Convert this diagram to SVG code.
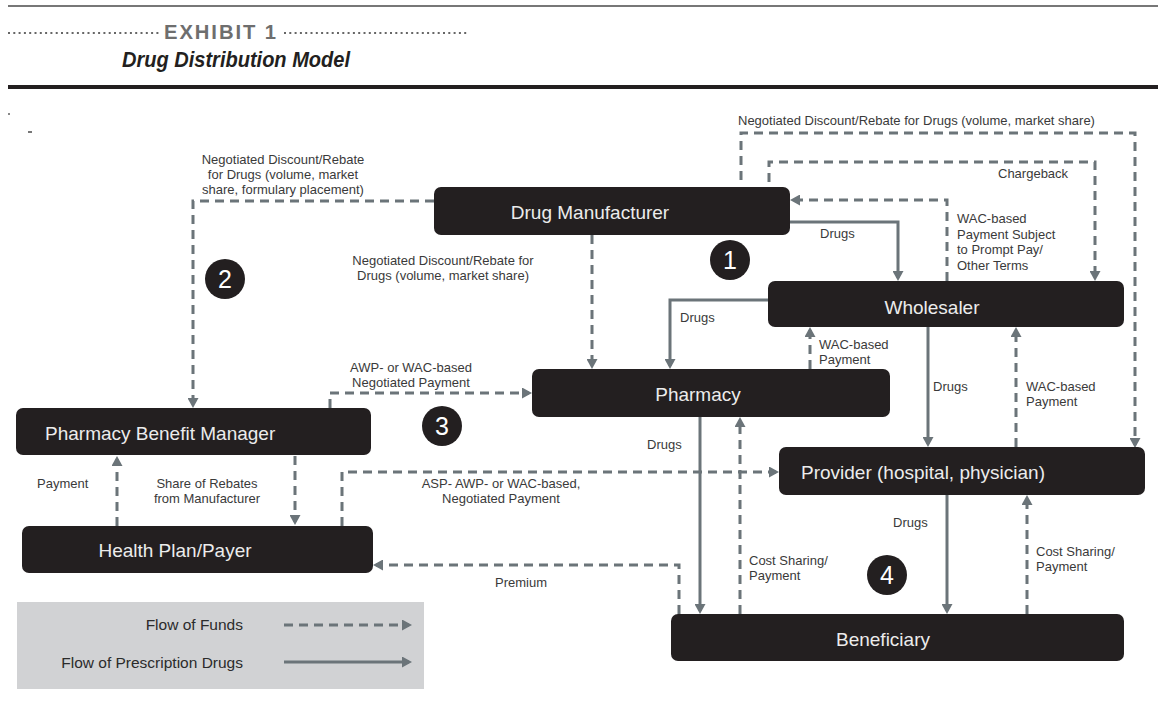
<svg xmlns="http://www.w3.org/2000/svg" width="1158" height="721" viewBox="0 0 1158 721">
<style>
.node rect{fill:#231f20}
.ntx{font-family:"Liberation Sans",Arial,sans-serif;font-size:19px;fill:#ececec}
.num circle{fill:#231f20}
.num text{font-family:"Liberation Sans",Arial,sans-serif;font-size:25px;fill:#ffffff;text-anchor:middle}
.lbl{font-family:"Liberation Sans",Arial,sans-serif;font-size:13px;fill:#3a3a3a}
.c{fill:none;stroke:#6b7479;stroke-width:3}
.d{stroke-dasharray:9 6}
.a{marker-end:url(#ah)}
</style>
<defs>
<marker id="ah" markerUnits="userSpaceOnUse" markerWidth="11" markerHeight="11" refX="7" refY="5.5" orient="auto">
<path d="M0,0 L10,5.5 L0,11 z" fill="#6b7479"/>
</marker>
</defs>
<rect width="1158" height="721" fill="#ffffff"/>
<g id="header">
<line x1="8" y1="6" x2="1158" y2="6" stroke="#777" stroke-width="2"/>
<line x1="8" y1="33" x2="160" y2="33" stroke="#666" stroke-width="2" stroke-dasharray="2 3.3"/>
<line x1="284" y1="33" x2="468" y2="33" stroke="#666" stroke-width="2" stroke-dasharray="2 3.3"/>
<text x="164" y="38.5" font-family="'Liberation Sans',Arial,sans-serif" font-size="21" font-weight="bold" letter-spacing="2" fill="#6e6e6e" textLength="114" lengthAdjust="spacingAndGlyphs">EXHIBIT 1</text>
<text x="122" y="67" font-family="'Liberation Sans',Arial,sans-serif" font-size="22" font-weight="bold" font-style="italic" fill="#231f20" textLength="228" lengthAdjust="spacingAndGlyphs">Drug Distribution Model</text>
<line x1="8" y1="87" x2="1158" y2="87" stroke="#231f20" stroke-width="4"/>
<rect x="8" y="113" width="2" height="2" fill="#888"/>
<rect x="28" y="131" width="4" height="2" fill="#777"/>
</g>
<g id="connectors">
<path class="c d a" d="M434,201 H193 V405"/>
<path class="c d a" d="M592,235 V366"/>
<path class="c a" d="M790,222 H898 V278"/>
<path class="c d a" d="M947,281 V200 H793"/>
<path class="c d a" d="M769,182 V162 H1095 V278"/>
<path class="c d a" d="M741,180 V133 H1135 V445"/>
<path class="c a" d="M768,300 H670 V366"/>
<path class="c d a" d="M810,369 V330"/>
<path class="c a" d="M928,327 V444"/>
<path class="c d a" d="M1016,447 V330"/>
<path class="c d a" d="M330,408 V393 H529"/>
<path class="c d a" d="M342,526 V472 H776"/>
<path class="c a" d="M700,417 V611"/>
<path class="c d a" d="M740,614 V420"/>
<path class="c d a" d="M679,614 V565 H376"/>
<path class="c a" d="M947,495 V611"/>
<path class="c d a" d="M1027,614 V498"/>
<path class="c d a" d="M117,526 V459"/>
<path class="c d a" d="M295,456 V522"/>
</g>
<g id="labels">
<text class="lbl" text-anchor="middle"><tspan x="283" y="164">Negotiated Discount/Rebate</tspan><tspan x="283" y="179">for Drugs (volume, market</tspan><tspan x="283" y="194">share, formulary placement)</tspan></text>
<text class="lbl" x="738" y="125">Negotiated Discount/Rebate for Drugs (volume, market share)</text>
<text class="lbl" x="998" y="178">Chargeback</text>
<text class="lbl"><tspan x="957" y="223">WAC-based</tspan><tspan x="957" y="238.5">Payment Subject</tspan><tspan x="957" y="254">to Prompt Pay/</tspan><tspan x="957" y="269.5">Other Terms</tspan></text>
<text class="lbl" x="820" y="238">Drugs</text>
<text class="lbl" text-anchor="middle"><tspan x="443" y="265">Negotiated Discount/Rebate for</tspan><tspan x="443" y="280">Drugs (volume, market share)</tspan></text>
<text class="lbl" x="680" y="322">Drugs</text>
<text class="lbl"><tspan x="819" y="349">WAC-based</tspan><tspan x="819" y="364">Payment</tspan></text>
<text class="lbl" text-anchor="middle"><tspan x="411" y="372">AWP- or WAC-based</tspan><tspan x="411" y="387">Negotiated Payment</tspan></text>
<text class="lbl" x="933" y="391">Drugs</text>
<text class="lbl"><tspan x="1026" y="391">WAC-based</tspan><tspan x="1026" y="406">Payment</tspan></text>
<text class="lbl" x="647" y="449">Drugs</text>
<text class="lbl" x="37" y="488">Payment</text>
<text class="lbl" text-anchor="middle"><tspan x="207" y="488">Share of Rebates</tspan><tspan x="207" y="503">from Manufacturer</tspan></text>
<text class="lbl" text-anchor="middle"><tspan x="501" y="488">ASP- AWP- or WAC-based,</tspan><tspan x="501" y="503">Negotiated Payment</tspan></text>
<text class="lbl" x="893" y="527">Drugs</text>
<text class="lbl"><tspan x="749" y="565">Cost Sharing/</tspan><tspan x="749" y="580">Payment</tspan></text>
<text class="lbl"><tspan x="1036" y="556">Cost Sharing/</tspan><tspan x="1036" y="571">Payment</tspan></text>
<text class="lbl" x="495" y="587">Premium</text>
</g>
<g id="manufacturer" class="node"><rect x="434" y="187" width="356" height="48" rx="7"/><text class="ntx" x="590" y="219" text-anchor="middle">Drug Manufacturer</text></g>
<g id="wholesaler" class="node"><rect x="768" y="281" width="356" height="46" rx="7"/><text class="ntx" x="932" y="314" text-anchor="middle">Wholesaler</text></g>
<g id="pharmacy" class="node"><rect x="532" y="369" width="358" height="48" rx="7"/><text class="ntx" x="698" y="401" text-anchor="middle">Pharmacy</text></g>
<g id="pbm" class="node"><rect x="16" y="408" width="355" height="47" rx="7"/><text class="ntx" x="45" y="440">Pharmacy Benefit Manager</text></g>
<g id="provider" class="node"><rect x="779" y="447" width="366" height="48" rx="7"/><text class="ntx" x="923" y="479" text-anchor="middle">Provider (hospital, physician)</text></g>
<g id="healthplan" class="node"><rect x="22" y="526" width="351" height="47" rx="7"/><text class="ntx" x="175" y="557" text-anchor="middle">Health Plan/Payer</text></g>
<g id="beneficiary" class="node"><rect x="671" y="614" width="453" height="47" rx="7"/><text class="ntx" x="883" y="646" text-anchor="middle">Beneficiary</text></g>
<g id="n1" class="num"><circle cx="730" cy="260" r="20"/><text x="730" y="269">1</text></g>
<g id="n2" class="num"><circle cx="225" cy="279" r="20"/><text x="225" y="288">2</text></g>
<g id="n3" class="num"><circle cx="442" cy="426" r="20"/><text x="442" y="435">3</text></g>
<g id="n4" class="num"><circle cx="887" cy="575" r="20"/><text x="887" y="584">4</text></g>
<g id="legend">
<rect x="17" y="602" width="407" height="87" fill="#d1d2d4"/>
<text x="243" y="630" text-anchor="end" font-family="'Liberation Sans',Arial,sans-serif" font-size="15.5" fill="#2b2b2b">Flow of Funds</text>
<text x="243" y="668" text-anchor="end" font-family="'Liberation Sans',Arial,sans-serif" font-size="15.5" fill="#2b2b2b">Flow of Prescription Drugs</text>
<path class="c d a" d="M284,625 H409"/>
<path class="c a" d="M284,662 H409"/>
</g>
</svg>
